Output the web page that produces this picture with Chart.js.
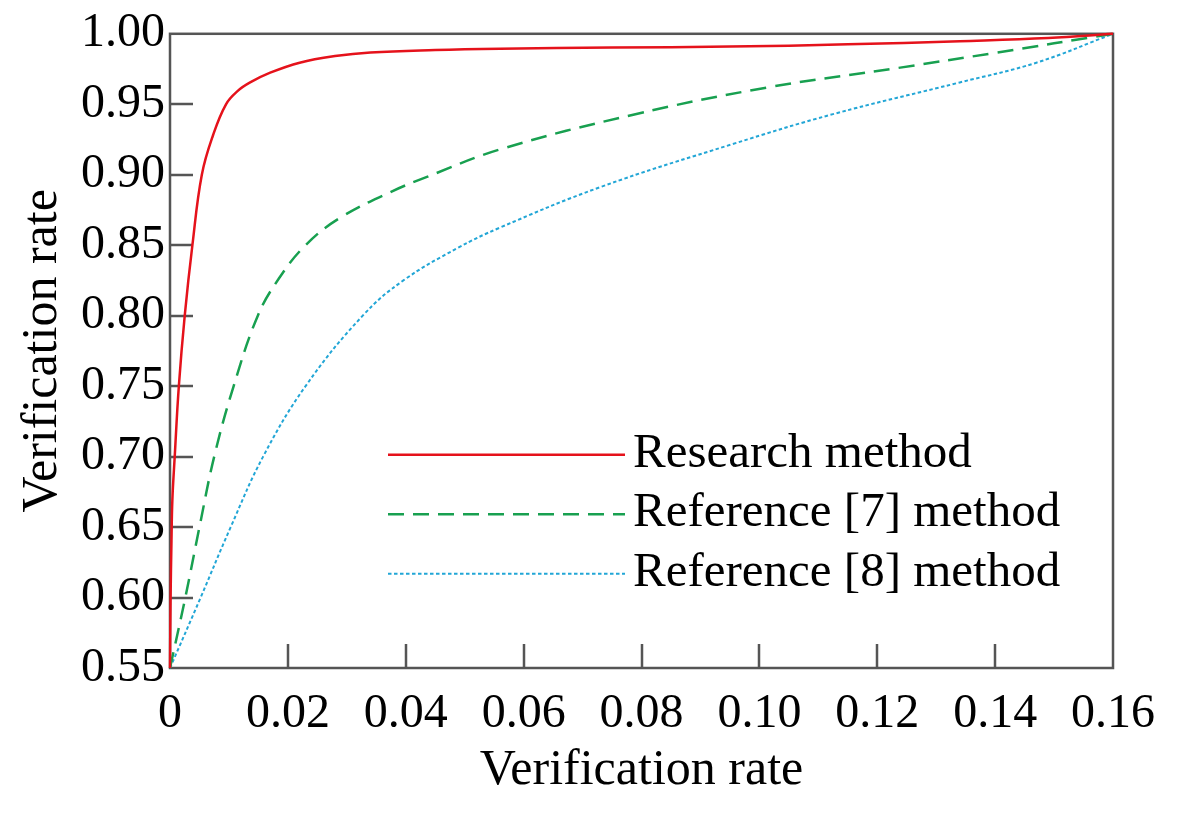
<!DOCTYPE html>
<html>
<head>
<meta charset="utf-8">
<script src="https://cdn.jsdelivr.net/npm/chart.js@4.4.1/dist/chart.umd.min.js"></script>
<style>
  html, body { margin: 0; padding: 0; background: #fff; }
  #wrap { width: 1200px; height: 825px; position: relative; }
</style>
</head>
<body>
<div id="wrap"><canvas id="rocChart"></canvas></div>
<script>
// values
const researchX = [0, 0.0001, 0.00025, 0.0004, 0.0008, 0.0015, 0.0025, 0.0038, 0.0054, 0.0073, 0.0095, 0.0115, 0.0136, 0.017, 0.022, 0.028, 0.034, 0.045, 0.056, 0.075, 0.095, 0.115, 0.134, 0.149, 0.16];
const researchY = [0.55, 0.60, 0.64, 0.669, 0.70, 0.75, 0.80, 0.85, 0.90, 0.928, 0.95, 0.9595, 0.9655, 0.9724, 0.9795, 0.9842, 0.9868, 0.9885, 0.9894, 0.9902, 0.9909, 0.9925, 0.9948, 0.997, 1.0];

const ref7X = [0, 0.0026, 0.0050, 0.0075, 0.0108, 0.0149, 0.0185, 0.0230, 0.0287, 0.0373, 0.0436, 0.056, 0.0786, 0.1012, 0.1239, 0.140, 0.16];
const ref7Y = [0.55, 0.60, 0.65, 0.70, 0.75, 0.80, 0.8265, 0.85, 0.869, 0.8875, 0.8985, 0.918, 0.9426, 0.9618, 0.976, 0.9865, 1.0];

const ref8X = [0, 0.0052, 0.0103, 0.0158, 0.0230, 0.0327, 0.0396, 0.0488, 0.056, 0.073, 0.0955, 0.1125, 0.134, 0.147, 0.16];
const ref8Y = [0.55, 0.60, 0.65, 0.70, 0.75, 0.80, 0.825, 0.848, 0.8625, 0.8912, 0.9218, 0.943, 0.9655, 0.9795, 1.0];

const seriesNames = ["Research method", "Reference [7] method", "Reference [8] method"];

const xMin = 0, xMax = 0.16, xStep = 0.02;
const yMin = 0.55, yMax = 1.0, yStep = 0.05;
const xTitle = "Verification rate";
const yTitle = "Verification rate";

const axisColor = "#555555";
const serif = "'Liberation Serif', 'Times New Roman', serif";

function toPoints(xs, ys) {
    return xs.map((x, i) => ({ x: x, y: ys[i] }));
}

// box frame and inward tick marks
const framePlugin = {
    id: "frame",
    beforeDatasetsDraw(chart) {
        const { ctx, chartArea: a, scales: { x, y } } = chart;
        ctx.save();
        ctx.strokeStyle = axisColor;
        ctx.lineWidth = 2.5;
        ctx.strokeRect(a.left, a.top, a.right - a.left, a.bottom - a.top);
        ctx.beginPath();
        x.ticks.forEach(t => {
            if (t.value > x.min + 1e-9 && t.value < x.max - 1e-9) {
                const px = Math.round(x.getPixelForValue(t.value));
                ctx.moveTo(px, a.bottom);
                ctx.lineTo(px, a.bottom - 24);
            }
        });
        y.ticks.forEach(t => {
            if (t.value > y.min + 1e-9 && t.value < y.max - 1e-9) {
                const py = Math.round(y.getPixelForValue(t.value));
                ctx.moveTo(a.left, py);
                ctx.lineTo(a.left + 23, py);
            }
        });
        ctx.stroke();
        ctx.restore();
    }
};

// legend drawn inside the plot, long line samples
const legendPlugin = {
    id: "innerLegend",
    afterDatasetsDraw(chart) {
        const { ctx, chartArea: a } = chart;
        ctx.save();
        ctx.font = "49px " + serif;
        ctx.textBaseline = "alphabetic";
        ctx.textAlign = "left";
        chart.data.datasets.forEach((ds, i) => {
            const yy = a.top + 421 + i * 59.5;
            ctx.strokeStyle = ds.borderColor;
            ctx.lineWidth = ds.borderWidth;
            ctx.setLineDash(ds.borderDash || []);
            ctx.beginPath();
            ctx.moveTo(a.left + 218, yy);
            ctx.lineTo(a.left + 455, yy);
            ctx.stroke();
            ctx.setLineDash([]);
            ctx.fillStyle = "#000";
            ctx.fillText(ds.label, a.left + 463, yy + 12);
        });
        ctx.restore();
    }
};

const ctx = document.getElementById("rocChart").getContext("2d");

new Chart(ctx, {
    type: "line",
    data: {
        datasets: [{
            label: seriesNames[0],
            data: toPoints(researchX, researchY),
            borderColor: "#e5121b",
            borderWidth: 2.5,
            pointRadius: 0,
            fill: false,
            tension: 0.4,
            clip: 4
        }, {
            label: seriesNames[1],
            data: toPoints(ref7X, ref7Y),
            borderColor: "#18a050",
            borderWidth: 2.5,
            borderDash: [16, 9],
            pointRadius: 0,
            fill: false,
            tension: 0.4,
            clip: 4
        }, {
            label: seriesNames[2],
            data: toPoints(ref8X, ref8Y),
            borderColor: "#22a6d6",
            borderWidth: 2,
            borderDash: [3.5, 2.5],
            pointRadius: 0,
            fill: false,
            tension: 0.4,
            clip: 4
        }]
    },
    options: {
        responsive: true,
        maintainAspectRatio: false,
        animation: false,
        layout: { padding: { top: 31, right: 87, left: 0, bottom: 0 } },
        plugins: {
            legend: { display: false },
            tooltip: { enabled: false }
        },
        scales: {
            x: {
                type: "linear",
                min: xMin,
                max: xMax,
                grid: { display: false, drawTicks: false },
                border: { display: false },
                ticks: {
                    stepSize: xStep,
                    autoSkip: false,
                    maxRotation: 0,
                    padding: 18,
                    color: "#000",
                    font: { family: serif, size: 48 },
                    callback: v => Math.abs(v) < 1e-9 ? "0" : v.toFixed(2)
                },
                title: {
                    display: true,
                    text: xTitle,
                    color: "#000",
                    font: { family: serif, size: 50 },
                    padding: { top: 0, bottom: 24 }
                },
                afterFit: s => { s.height = 157; }
            },
            y: {
                type: "linear",
                min: yMin,
                max: yMax,
                grid: { display: false, drawTicks: false },
                border: { display: false },
                ticks: {
                    stepSize: yStep,
                    autoSkip: false,
                    padding: 5,
                    color: "#000",
                    font: { family: serif, size: 48 },
                    callback: v => v.toFixed(2)
                },
                title: {
                    display: true,
                    text: yTitle,
                    color: "#000",
                    font: { family: serif, size: 50 },
                    padding: { top: 13, bottom: 0 }
                },
                afterFit: s => { s.width = 170; }
            }
        }
    },
    plugins: [framePlugin, legendPlugin]
});
</script>
</body>
</html>
